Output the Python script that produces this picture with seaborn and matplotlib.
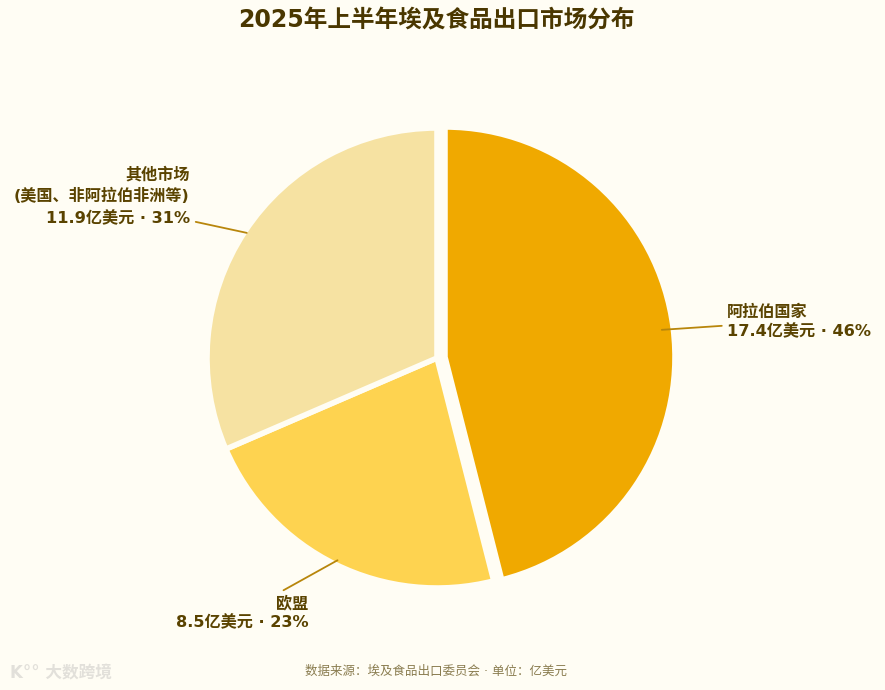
import numpy as np
import seaborn as sns
import matplotlib.pyplot as plt

# data
markets = ['阿拉伯国家', '欧盟', '其他市场\n(美国、非阿拉伯非洲等)']
values = [17.4, 8.5, 11.9]  # 亿美元
shares = [46, 23, 31]  # %
explode = [0.035, 0, 0]

# colours
bg = '#FFFDF4'
slice_colors = ['#F0A900', '#FED350', '#F6E2A2']
text_color = '#5A4300'
line_color = '#B8860B'

sns.set_theme(style='white')
plt.rcParams['font.family'] = ['DejaVu Sans', 'Noto Sans CJK SC']

W, H = 885, 690
R = 230          # pie radius in px
cx, cy = 437, 358  # pie centre in px (from top-left)

fig = plt.figure(figsize=(W / 100, H / 100), dpi=100, facecolor=bg)
ax = fig.add_axes([0, 0, 1, 1])
ax.set_facecolor(bg)

wedges, _ = ax.pie(values, startangle=90, counterclock=False, colors=slice_colors,
                   explode=explode, radius=1,
                   wedgeprops=dict(edgecolor=bg, linewidth=4))
ax.set_xlim(-cx / R, (W - cx) / R)
ax.set_ylim(-(H - cy) / R, cy / R)
ax.axis('off')

# label layout: start radius, line end offset (px) from the start point, text offset (px), alignment
label_layout = [
    dict(r=0.95, end=(60, 4), txt=(5, 4), ha='left', va='center', ls=1.3),
    dict(r=0.98, end=(-54, -30), txt=(25, -5), ha='right', va='top', ls=1.3),
    dict(r=0.99, end=(-51, 11), txt=(-6, -4), ha='right', va='bottom', ls=1.45),
]

for w, name, v, p, lay in zip(wedges, markets, values, shares, label_layout):
    mid = np.deg2rad((w.theta1 + w.theta2) / 2)
    x0 = w.center[0] + lay['r'] * np.cos(mid)
    y0 = w.center[1] + lay['r'] * np.sin(mid)
    x1 = x0 + lay['end'][0] / R
    y1 = y0 + lay['end'][1] / R
    ax.plot([x0, x1], [y0, y1], color=line_color, lw=1.3, solid_capstyle='round', zorder=5)
    ax.annotate(f'{name}\n{v}亿美元 · {p}%', xy=(x1, y1),
                xytext=(lay['txt'][0] * 0.72, lay['txt'][1] * 0.72), textcoords='offset points',
                ha=lay['ha'], va=lay['va'], multialignment=lay['ha'],
                fontsize=11.6, fontweight='bold', color=text_color, linespacing=lay['ls'])

fig.text(0.493, 1 - 20 / H, '2025年上半年埃及食品出口市场分布', ha='center', va='center',
         fontsize=17, fontweight='bold', color='#4A3700')
fig.text(436 / W, 1 - 671 / H, '数据来源：埃及食品出口委员会 · 单位：亿美元', ha='center', va='center',
         fontsize=9, color='#8A7D50')
fig.text(10 / W, 1 - 672 / H, 'K°° 大数跨境', ha='left', va='center',
         fontsize=12, fontweight='bold', color='#E2E0DA')

fig.savefig('out.png', dpi=100, facecolor=bg)
